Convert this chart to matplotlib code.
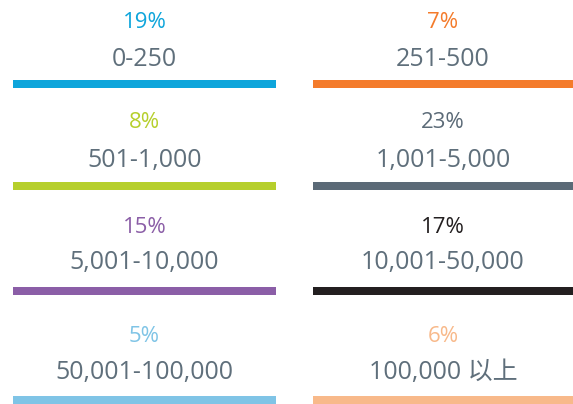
import matplotlib
matplotlib.use("Agg")
import matplotlib.pyplot as plt

categories = ["0-250", "251-500", "501-1,000", "1,001-5,000",
              "5,001-10,000", "10,001-50,000", "50,001-100,000", "100,000 以上"]
values = [19, 7, 8, 23, 15, 17, 5, 6]
colors = ["#0ea5db", "#f47b2b", "#b6cf2c", "#5b6a77",
          "#8b5ea7", "#231f20", "#7fc4e6", "#f8b98a"]
label_color = "#5f6f7b"

W, H = 573, 404
fig = plt.figure(figsize=(W / 100, H / 100), dpi=100)
ax = fig.add_axes([0, 0, 1, 1])
ax.set_xlim(0, W)
ax.set_ylim(H, 0)
ax.axis("off")

fam = ["Open Sans", "Noto Sans CJK SC", "DejaVu Sans"]
col_left = [13, 313]
col_width = [263, 260]
bar_tops = [80, 182, 287, 396]
bar_h = 8
pct_base = [28, 128, 233, 342]
lab_base = [66, 167, 269, 379]

for i, (cat, v, c) in enumerate(zip(categories, values, colors)):
    r, k = divmod(i, 2)
    x0 = col_left[k]
    w = col_width[k]
    y0 = bar_tops[r]
    ax.barh(y0 + bar_h / 2, w, left=x0, height=bar_h, color=c, linewidth=0)
    cx = x0 + w / 2
    ax.text(cx, pct_base[r], f"{v}%", color=c, fontsize=16,
            ha="center", va="baseline", family=fam)
    ax.text(cx, lab_base[r], cat, color=label_color, fontsize=18,
            ha="center", va="baseline", family=fam)

fig.savefig("out.png", dpi=100)
